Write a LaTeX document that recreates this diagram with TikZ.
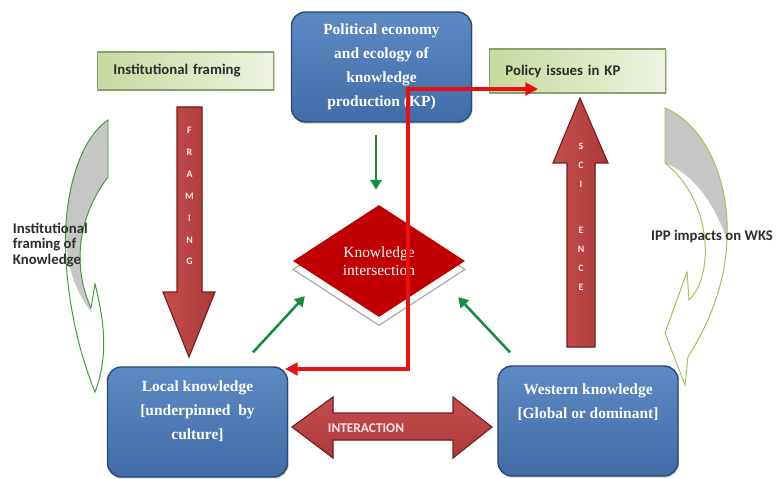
\documentclass[tikz,border=0pt]{standalone}
\usepackage{fontspec}
\setmainfont{Liberation Serif}
\setsansfont{Carlito}
\usepackage{tikz}
\usetikzlibrary{shapes.geometric,arrows.meta,shadows,calc,positioning}

\definecolor{bluetop}{RGB}{92,138,196}
\definecolor{bluemid}{RGB}{118,160,212}
\definecolor{bluebot}{RGB}{64,108,168}
\definecolor{bluedge}{RGB}{42,72,112}
\definecolor{greenL}{RGB}{198,218,158}
\definecolor{greenR}{RGB}{238,243,226}
\definecolor{greenedge}{RGB}{140,160,110}
\definecolor{redL}{RGB}{196,78,76}
\definecolor{redM}{RGB}{226,132,128}
\definecolor{redR}{RGB}{170,58,58}
\definecolor{rededge}{RGB}{120,30,30}
\definecolor{kred}{RGB}{192,0,0}
\definecolor{linkred}{RGB}{232,16,16}
\definecolor{arrowgreen}{RGB}{22,140,60}
\definecolor{curveL}{RGB}{70,150,70}
\definecolor{curveR}{RGB}{160,195,90}
\definecolor{backgray}{RGB}{198,198,198}
\definecolor{textgray}{RGB}{45,45,45}

\begin{document}
\begin{tikzpicture}[x=0.025cm,y=-0.025cm,
    kbox/.style={rectangle, rounded corners=10pt, draw=bluedge, line width=1pt,
        top color=bluetop, middle color=bluemid, bottom color=bluebot,
        minimum width=4.5cm, minimum height=2.75cm, text=white, align=center,
        font=\bfseries\fontsize{11}{17}\selectfont,
        drop shadow={opacity=0.35, shadow xshift=0.8pt, shadow yshift=-1.2pt}},
    framebox/.style={rectangle, draw=greenedge, line width=0.8pt,
        left color=greenL, right color=greenR, minimum width=4.4cm,
        minimum height=1cm, inner xsep=0.4cm, text width=3.6cm, align=left,
        text=textgray, font=\sffamily\bfseries\fontsize{10.5}{12}\selectfont,
        drop shadow={opacity=0.3, shadow xshift=0.8pt, shadow yshift=-1pt}},
    kdiamond/.style={diamond, fill=kred, draw=none, aspect=1.54, inner sep=0pt,
        minimum width=4.3cm, minimum height=2.8cm, text=white, align=center,
        font=\fontsize{11}{13}\selectfont,
        general shadow={fill=white, draw=gray!70, line width=0.8pt, shadow yshift=-6pt}},
    bigarrow/.style={draw=rededge, line width=0.8pt, left color=redL,
        middle color=redM, right color=redR},
    arrowtext/.style={text=white!92!red, align=center,
        font=\sffamily\bfseries\fontsize{7}{15.6}\selectfont},
    redlink/.style={draw=linkred, line width=2.2pt,
        {Triangle[length=9pt,width=9pt]}-{Triangle[length=9pt,width=9pt]}},
    greenarrow/.style={draw=arrowgreen, line width=1.8pt,
        -{Triangle[length=7pt,width=8pt]}},
    sidetext/.style={text=textgray, font=\sffamily\bfseries\fontsize{10.5}{11}\selectfont}]
    \useasboundingbox (0,0) rectangle (778,479);

    % boxes
    \node[kbox] (pe) at (381.5,67) {Political economy\\and ecology of\\knowledge\\production (KP)};
    \node[kbox, text depth=0.6cm] (lk) at (197.5,422) {Local knowledge\\{[}underpinned\ \ by\\culture{]}};
    \node[kbox, text depth=1cm] (wk) at (588,421) {Western knowledge\\{[}Global or dominant{]}};
    \node[framebox, minimum height=0.95cm] (inst) at (185.5,71) {Institutional framing};
    \node[framebox, minimum height=1.1cm] (pol) at (577.5,71) {Policy issues in KP};
    \node[kdiamond] (ki) at (379,261) {Knowledge\\intersection};

    % big block arrows
    \filldraw[bigarrow] (177,107) -- (202,107) -- (202,292) -- (215,292) -- (189,357)
        -- (163,292) -- (177,292) -- cycle;
    \node[arrowtext] (framing) at (189.5,196) {F\\R\\A\\M\\I\\N\\G};
    \filldraw[bigarrow] (567,347) -- (595,347) -- (595,163) -- (608,163) -- (580,98)
        -- (553,163) -- (567,163) -- cycle;
    \node[arrowtext, font=\sffamily\bfseries\fontsize{7}{13.5}\selectfont] (science) at (581,217) {S\\C\\I\\[19pt]E\\N\\C\\E};
    \filldraw[draw=rededge, line width=0.8pt, top color=redL, middle color=redM, bottom color=redR]
        (292,427) -- (333,397) -- (333,413) -- (453,413) -- (453,397) -- (492,427)
        -- (453,458) -- (453,440) -- (333,440) -- (333,458) -- cycle;
    \node[text=white!90!red, font=\sffamily\bfseries\fontsize{9.5}{10}\selectfont] (inter) at (366,428) {INTERACTION};

    % curved side arrows
    \fill[backgray] (108,120) .. controls (78,140) and (62,200) .. (67,250)
        .. controls (70,280) and (82,300) .. (92,313)
        .. controls (76,275) and (72,225) .. (108,177) -- cycle;
    \draw[curveL, line width=0.7pt] (108,120) .. controls (78,140) and (62,200) .. (66,260)
        .. controls (69,310) and (80,355) .. (95,392)
        .. controls (109,355) and (104,320) .. (95,284) -- (91,308)
        .. controls (76,275) and (72,225) .. (108,177) -- cycle;
    \fill[backgray] (665,108) .. controls (705,125) and (730,180) .. (727,240)
        .. controls (715,205) and (695,175) .. (665,163) -- cycle;
    \draw[curveR, line width=0.7pt] (665,108) .. controls (705,125) and (730,180) .. (727,240)
        .. controls (725,290) and (705,330) .. (688,357) -- (685,385) -- (665,333)
        -- (687,272) -- (689,300) .. controls (715,275) and (712,200) .. (665,163) -- cycle;
    \node[sidetext, anchor=north west, align=left] (instk) at (8,218) {Institutional\\framing of\\Knowledge};
    \node[sidetext] (ipp) at (712,236) {IPP impacts on WKS};

    % connectors
    \draw[greenarrow] ($(pe.south)+(-5.5,12)$) -- ($(ki.north)+(-3,-15)$);
    \draw[greenarrow] ($(lk.north)+(55.5,-14)$) -- ($(ki.south west)+(-31,7)$);
    \draw[greenarrow] ($(wk.north)+(-78,-13)$) -- ($(ki.south east)+(36,8)$);
    \coordinate (lktip) at (285,369);
    \coordinate (kpbend) at (408,369);
    \coordinate (poltip) at (538,89);
    \draw[redlink] (lktip) -- (kpbend) |- (poltip);
\end{tikzpicture}
\end{document}
